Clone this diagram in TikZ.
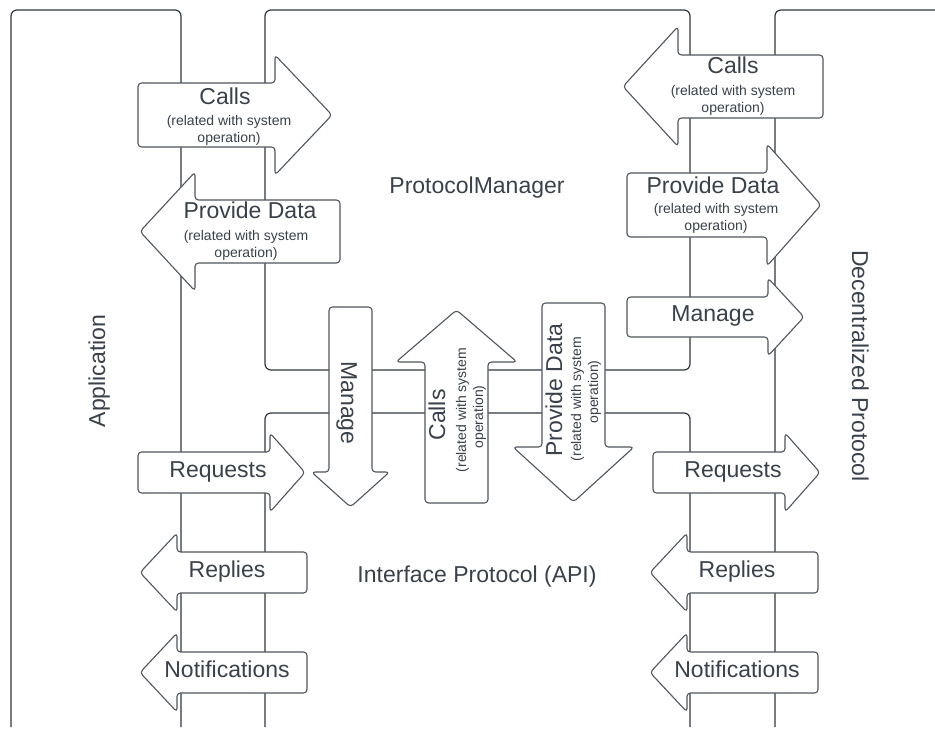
\documentclass[tikz,border=0pt]{standalone}
\usepackage{fontspec}
\setmainfont{Liberation Sans}
\definecolor{txt}{HTML}{3A414B}
\definecolor{pline}{HTML}{2F3742}
\definecolor{aline}{HTML}{50565E}
% horizontal arrow: x_tail, x_headbase, x_tip, y_top, y_bottom, head extension
\newcommand\HArr[6]{\path[arrowbox] (#1,#4) -- (#2,#4) -- (#2,{#4-#6}) -- (#3,{(#4+#5)/2}) -- (#2,{#5+#6}) -- (#2,#5) -- (#1,#5) -- cycle;}
% vertical arrow: y_tail, y_headbase, y_tip, x_left, x_right, head extension
\newcommand\VArr[6]{\path[arrowbox] (#4,#1) -- (#4,#2) -- ({#4-#6},#2) -- ({(#4+#5)/2},#3) -- ({#5+#6},#2) -- (#5,#2) -- (#5,#1) -- cycle;}
\begin{document}
\begin{tikzpicture}[x=1pt,y=-1pt,
  panel/.style={draw=pline,line width=1.2pt,rounded corners=6pt},
  arrowbox/.style={draw=aline,fill=white,line width=1.1pt,rounded corners=3.5pt,line join=round},
  big/.style={font=\fontsize{23}{27}\selectfont,text=txt,anchor=base,inner sep=0pt},
  small/.style={font=\fontsize{14}{17}\selectfont,text=txt,anchor=base,inner sep=0pt}]
\useasboundingbox (0,0) rectangle (935,729);
% panels
\draw[panel] (11,727) -- (11,10) -- (181,10) -- (181,727);
\draw[panel] (265,10) rectangle (690,370);
\draw[panel] (265,727) -- (265,413) -- (690,413) -- (690,727);
\draw[panel] (935,10) -- (775,10) -- (775,727);
% panel labels
\node[big] (pm) at (477,193) {ProtocolManager};
\node[big] (api) at (477,582) {Interface Protocol (API)};
\node[big,rotate=90] (app) at (105,371) {Application};
\node[big,rotate=-90] (dec) at (852,366) {Decentralized Protocol};
% left upper arrows
\HArr{138}{275}{332}{83}{147}{28}
\node[big] (lcalls) at (225,104) {Calls};
\node[small] (lcalls1) at (229,125) {(related with system};
\node[small] (lcalls2) at (229,142) {operation)};
\HArr{340}{195}{140}{200}{263}{28}
\node[big] (lprov) at (250,218) {Provide Data};
\node[small] (lprov1) at (246,240) {(related with system};
\node[small] (lprov2) at (246,257) {operation)};
% right upper arrows
\HArr{823}{678}{623}{55}{118}{28.5}
\node[big] (rcalls) at (733,73) {Calls};
\node[small] (rcalls1) at (733,95) {(related with system};
\node[small] (rcalls2) at (733,112) {operation)};
\HArr{627}{767}{821}{173}{237}{29}
\node[big] (rprov) at (713,193) {Provide Data};
\node[small] (rprov1) at (716,213) {(related with system};
\node[small] (rprov2) at (716,230) {operation)};
\HArr{627}{768}{804}{297}{337}{19}
\node[big] (rman) at (713,321) {Manage};
% centre vertical arrows
\VArr{307}{472}{507}{329}{372}{17.5}
\node[big,rotate=-90] (cman) at (341,403) {Manage};
\VArr{503}{362}{310}{425}{488}{29}
\node[big,rotate=90] (ccalls) at (445,415) {Calls};
\node[small,rotate=90] (ccalls1) at (466,410) {(related with system};
\node[small,rotate=90] (ccalls2) at (483,417) {operation)};
\VArr{303}{447}{502}{542}{605}{29}
\node[big,rotate=90] (cprov) at (562,390) {Provide Data};
\node[small,rotate=90] (cprov1) at (581,399) {(related with system};
\node[small,rotate=90] (cprov2) at (598,392) {operation)};
% left lower arrows
\HArr{138}{270}{305}{452}{493}{19}
\node[big] (lreq) at (218,477) {Requests};
\HArr{307}{177}{140}{552}{593}{19}
\node[big] (lrep) at (227,577) {Replies};
\HArr{307}{177}{140}{652}{693}{19}
\node[big] (lnot) at (227,677) {Notifications};
% right lower arrows
\HArr{653}{785}{820}{452}{493}{19}
\node[big] (rreq) at (733,477) {Requests};
\HArr{818}{687}{650}{552}{593}{19}
\node[big] (rrep) at (737,577) {Replies};
\HArr{818}{687}{650}{652}{693}{19}
\node[big] (rnot) at (737,677) {Notifications};
\end{tikzpicture}
\end{document}
